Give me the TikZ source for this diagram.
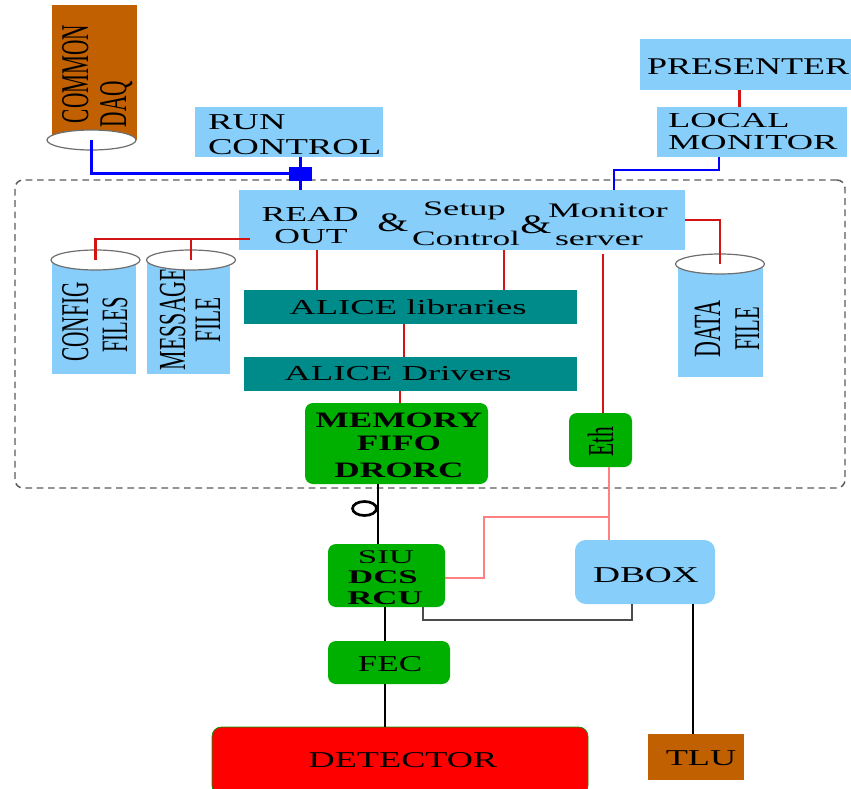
\documentclass[tikz,border=0pt]{standalone}
\usepackage{fontspec}
\setmainfont{Liberation Serif}
\usetikzlibrary{fit,calc,shapes.geometric}
\definecolor{lblue}{RGB}{135,206,250}
\definecolor{tealb}{RGB}{0,139,139}
\definecolor{grn}{RGB}{0,176,0}
\definecolor{brn}{RGB}{192,96,0}
\definecolor{rline}{RGB}{210,20,20}
\definecolor{pinkl}{RGB}{255,128,128}
\definecolor{blu}{RGB}{0,0,255}
\definecolor{framegray}{RGB}{90,90,90}
\definecolor{elgray}{RGB}{110,110,110}
\newcommand\hs[2][1.7]{\scalebox{#1}[1]{#2}}
\newcommand\vs[2][1.8]{\scalebox{1}[#1]{#2}}
\newcommand\fsz[1]{\fontsize{#1pt}{#1pt}\selectfont}
\begin{document}
\begin{tikzpicture}[x=0.75pt,y=-0.75pt,
  box/.style={inner sep=0pt,outer sep=0pt},
  lb/.style={box,fill=lblue},
  tl/.style={box,fill=tealb},
  gr/.style={box,fill=grn,rounded corners=6pt},
  txt/.style={inner sep=0pt,outer sep=0pt},
  cyltop/.style={ellipse,draw=elgray,fill=white,line width=0.9pt,inner sep=0pt,minimum width=66.75pt,minimum height=15pt},
  frm/.style={box,draw=framegray,line width=1.1pt,dash pattern=on 5pt off 3.5pt,rounded corners=6pt},
  bl/.style={draw=blu,line width=2.2pt},
  rl/.style={draw=rline,line width=2.1pt},
  pk/.style={draw=pinkl,line width=1.5pt},
  gl/.style={draw=black!70,line width=1.2pt},
  bk/.style={draw=black,line width=2.2pt}]
\useasboundingbox (0,0) rectangle (851,789);
% x positions used by connectors
\coordinate (xlm) at (719,0);
\coordinate (xmb) at (614,0);
\coordinate (xpr) at (739.5,0);
\coordinate (x317) at (317,0);
\coordinate (x504) at (504,0);
\coordinate (x404) at (404,0);
\coordinate (x400) at (400,0);
\coordinate (x603) at (603,0);
\coordinate (x609) at (609,0);
\coordinate (x378) at (378,0);
\coordinate (x385) at (385,0);
\coordinate (x423) at (423,0);
\coordinate (x632) at (632,0);
\coordinate (x693) at (693,0);
\coordinate (yd) at (0,220);
\coordinate (rcfg) at (250,239);
\coordinate (pj) at (609,517);
\coordinate (pk2) at (484,578);
\coordinate (g1) at (423,620);

% frame
\node[frm,fit={(15,180)(845,488)}] (frame) {};

% COMMON DAQ
\node[box,fill=brn,fit={(52,5)(137,140)}] (daq) {};
\node[txt,rotate=90,anchor=base west] (tdaq1) at (88,123) {\fsz{16}\vs[1.84]{COMMON}};
\node[txt,rotate=90,anchor=base west] (tdaq2) at (126,127) {\fsz{16}\vs[1.84]{DAQ}};
\node[cyltop] (daqtop) at (91.5,140) {};

% RUN CONTROL
\node[lb,fit={(195,107)(383,157)}] (run) {};
\node[txt,anchor=base west] (trun1) at (208,129) {\fsz{17}\hs[1.62]{RUN}};
\node[txt,anchor=base west] (trun2) at (208,154) {\fsz{17}\hs[1.62]{CONTROL}};

% PRESENTER / LOCAL MONITOR
\node[lb,fit={(640,39)(851,90)}] (pres) {};
\node[txt,anchor=base west] (tpres) at (647,74) {\fsz{18}\hs[1.5]{PRESENTER}};
\node[lb,fit={(657,107)(847,157)}] (lm) {};
\node[txt,anchor=base west] (tlm1) at (668,127) {\fsz{16}\hs[1.71]{LOCAL}};
\node[txt,anchor=base west] (tlm2) at (668,149) {\fsz{16}\hs[1.71]{MONITOR}};

% READOUT box
\node[lb,fit={(239,190)(685,250)}] (ro) {};
\node[txt,anchor=base] (tro1) at (310,221) {\fsz{16}\hs[1.67]{READ}};
\node[txt,anchor=base] (tro2) at (311,243) {\fsz{16}\hs[1.67]{OUT}};
\node[txt] (amp1) at (393,223) {\fsz{20}\hs[1.5]{\&}};
\node[txt,anchor=base west] (tsc1) at (423,215) {\fsz{15.5}\hs[1.76]{Setup}};
\node[txt,anchor=base west] (tsc2) at (412,245) {\fsz{15.5}\hs[1.71]{Control}};
\node[txt] (amp2) at (536,225) {\fsz{20}\hs[1.5]{\&}};
\node[txt,anchor=base west] (tms1) at (548,217) {\fsz{15.5}\hs[1.77]{Monitor}};
\node[txt,anchor=base west] (tms2) at (555,245) {\fsz{15.5}\hs[1.74]{server}};

% CONFIG FILES
\node[lb,fit={(52,260)(136,374)}] (cfg) {};
\node[txt,rotate=90,anchor=base] (tcfg1) at (88,322) {\fsz{16}\vs[1.84]{CONFIG}};
\node[txt,rotate=90,anchor=base] (tcfg2) at (127,325) {\fsz{15.5}\vs[1.8]{FILES}};
\node[cyltop] (cfgtop) at (95.5,260) {};
% MESSAGE FILE
\node[lb,fit={(147,260)(230,374)}] (msg) {};
\node[txt,rotate=90,anchor=base] (tmsg1) at (185,319) {\fsz{16.4}\vs[1.75]{MESSAGE}};
\node[txt,rotate=90,anchor=base] (tmsg2) at (220,320) {\fsz{16}\vs[1.75]{FILE}};
\node[cyltop] (msgtop) at (191,260) {};
% DATA FILE
\node[lb,fit={(678,264)(763,377)}] (dat) {};
\node[txt,rotate=90,anchor=base] (tdat1) at (720,329) {\fsz{16.5}\vs[1.75]{DATA}};
\node[txt,rotate=90,anchor=base] (tdat2) at (759,329) {\fsz{15.5}\vs[1.75]{FILE}};
\node[cyltop] (dattop) at (720,264) {};

% ALICE
\node[tl,fit={(244,290)(577,324)}] (lib) {};
\node[txt,anchor=base] (tlib) at (408,314) {\fsz{16}\hs[1.72]{ALICE libraries}};
\node[tl,fit={(244,357)(577,391)}] (drv) {};
\node[txt,anchor=base] (tdrv) at (398,380) {\fsz{16}\hs[1.72]{ALICE Drivers}};

% MEMORY
\node[gr,fit={(305,403)(488,484)}] (mem) {};
\node[txt,anchor=base] (tmem1) at (399,427) {\fsz{16.5}\bfseries\hs[1.6]{MEMORY}};
\node[txt,anchor=base] (tmem2) at (399,450) {\fsz{16.5}\bfseries\hs[1.6]{FIFO}};
\node[txt,anchor=base] (tmem3) at (399,477) {\fsz{16.5}\bfseries\hs[1.6]{DRORC}};

% Eth
\node[gr,fit={(569,413)(632,467)}] (eth) {};
\node[txt,rotate=90,anchor=base] (teth) at (613,442) {\fsz{16}\vs[1.72]{Eth}};

% SIU
\node[gr,fit={(328,544)(445,607)}] (siu) {};
\node[txt,anchor=base] (tsiu1) at (386,563) {\fsz{14.5}\hs[1.8]{SIU}};
\node[txt,anchor=base] (tsiu2) at (383,583) {\fsz{14.5}\bfseries\hs[1.8]{DCS}};
\node[txt,anchor=base] (tsiu3) at (385,604) {\fsz{14.5}\bfseries\hs[1.8]{RCU}};

% DBOX
\node[lb,rounded corners=8pt,fit={(575,540)(715,604)}] (dbox) {};
\node[txt,anchor=base] (tdbox) at (646,582) {\fsz{17}\hs[1.65]{DBOX}};

% FEC
\node[gr,fit={(328,641)(450,684)}] (fec) {};
\node[txt,anchor=base] (tfec) at (390,671) {\fsz{17}\hs[1.55]{FEC}};

% DETECTOR
\node[box,fill=red,draw=green!60!black,line width=0.5pt,rounded corners=7pt,fit={(212,727)(588,795)}] (det) {};
\node[txt,anchor=base] (tdet) at (403,767) {\fsz{17}\hs[1.6]{DETECTOR}};

% TLU
\node[box,fill=brn,fit={(648,734)(744,780)}] (tlu) {};
\node[txt,anchor=base] (ttlu) at (701,765) {\fsz{17}\hs[1.6]{TLU}};

% connectors
\draw[bl] (daqtop.center) |- (300.5,173.5) coordinate (jc);
\draw[bl] (run.south -| jc) -- (ro.north -| jc);
\node[box,fill=blu,minimum width=17pt,minimum height=10.5pt] (jn) at (jc) {};
\draw[bl] (lm.south -| xlm) -- ++(0,13) -| (ro.north -| xmb);
\draw[rl] (pres.south -| xpr) -- (lm.north -| xpr);
\draw[rl] (ro.east |- yd) -| (dattop.center);
\draw[rl] (rcfg) -| (cfgtop.center);
\draw[rl] (rcfg -| msgtop) -- (msgtop.center);
\draw[rl] (ro.south -| x317) -- (lib.north -| x317);
\draw[rl] (ro.south -| x504) -- (lib.north -| x504);
\draw[rl] (lib.south -| x404) -- (drv.north -| x404);
\draw[rl] (drv.south -| x400) -- (mem.north -| x400);
\draw[rl,shorten <=3pt] (ro.south -| x603) -- (eth.north -| x603);
\draw[pk] (eth.south -| x609) -- (dbox.north -| x609);
\draw[pk] (pj) -| (pk2) -- (pk2 -| siu.east);
\draw[gl] (siu.south -| g1) -- (g1) -| (dbox.south -| x632);
\draw[bk] (mem.south -| x378) -- (siu.north -| x378);
\node[ellipse,draw=black,line width=2pt,inner sep=0pt,minimum width=18pt,minimum height=10.5pt] (ring) at (364.5,508.5) {};
\draw[bk] (siu.south -| x385) -- (fec.north -| x385);
\draw[bk] (fec.south -| x385) -- (det.north -| x385);
\draw[bk] (dbox.south -| x693) -- (tlu.north -| x693);
\end{tikzpicture}
\end{document}
